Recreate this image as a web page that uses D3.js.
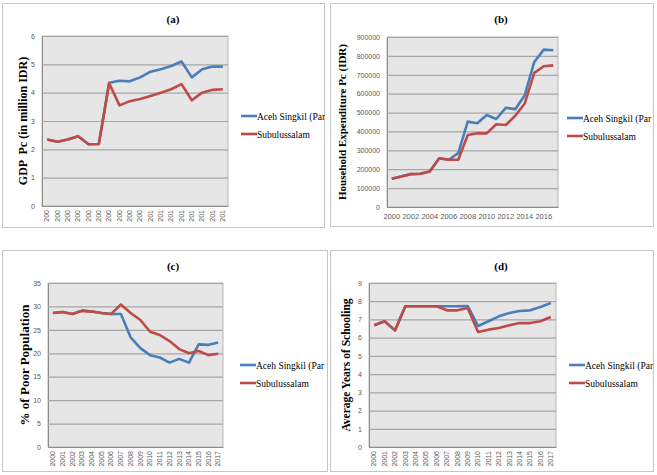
<html>
<head>
<meta charset="utf-8">
<style>
  body { margin: 0; background: #fff; }
  svg { display: block; }
  .tick text { font-family: 'Liberation Sans', Arial, sans-serif; font-size: 7px; fill: #595959; }
  .panel-title { font-family: 'Liberation Serif', 'Times New Roman', serif; font-weight: bold; font-size: 11px; fill: #000; }
  .y-title { font-family: 'Liberation Serif', 'Times New Roman', serif; font-weight: bold; font-size: 12px; fill: #000; white-space: pre; }
  .legend text { font-family: 'Liberation Serif', 'Times New Roman', serif; font-size: 9.5px; fill: #000; }
</style>
</head>
<body>
<svg width="657" height="475"></svg>
<script src="https://d3js.org/d3.v7.min.js"></script>
<script>
  // categories
  let years = ["2000","2001","2002","2003","2004","2005","2006","2007","2008",
               "2009","2010","2011","2012","2013","2014","2015","2016","2017"]

  // (a) GDP per capita, million IDR
  let gdpAceh  = [2.35,2.27,2.35,2.46,2.18,2.19,4.35,4.42,4.4,4.54,4.74,4.83,4.94,5.1,4.54,4.83,4.92,4.92]
  let gdpSubul = [2.35,2.27,2.35,2.46,2.18,2.19,4.33,3.55,3.7,3.78,3.88,4.0,4.12,4.3,3.73,4.0,4.1,4.12]

  // (b) household expenditure per capita, IDR
  let expAceh  = [149000,162000,174000,176000,188000,258000,250000,285000,452000,443000,487000,466000,525000,518000,592000,768000,833000,830000]
  let expSubul = [149000,162000,174000,176000,188000,258000,250000,250000,381000,390000,390000,438000,434000,483000,548000,710000,745000,750000]

  // (c) % of poor population
  let poorAceh  = [28.6,28.8,28.4,29.1,28.9,28.6,28.4,28.4,23.4,21.1,19.6,19.1,18.0,18.8,18.0,21.9,21.8,22.3]
  let poorSubul = [28.6,28.8,28.4,29.1,28.9,28.6,28.4,30.4,28.6,27.1,24.6,23.9,22.6,20.9,20.0,20.5,19.6,19.9]

  // (d) average years of schooling
  let schAceh  = [6.68,6.9,6.4,7.72,7.72,7.72,7.72,7.72,7.72,7.74,6.64,6.9,7.17,7.35,7.46,7.5,7.68,7.9]
  let schSubul = [6.68,6.9,6.4,7.72,7.72,7.72,7.72,7.5,7.5,7.63,6.31,6.44,6.53,6.68,6.8,6.8,6.9,7.13]

  let seriesNames = ["Aceh Singkil (Par", "Subulussalam"]
  let seriesColors = ["#4a7ebb", "#be4b48"]

  let svg = d3.select("svg")

  let panels = [
    {id: "a", title: "(a)", titleX: 173, yTitle: "GDP  Pc (in million IDR)", yTitleX: 23, box: [2, 3, 325, 228],
     plot: {left: 42, right: 228, top: 36, bottom: 206}, yMax: 6, yStep: 1,
     data: [gdpAceh, gdpSubul], xMode: "short", legendX: 241, legendY: 116},
    {id: "b", title: "(b)", titleX: 501, yTitle: "Household Expenditure Pc (IDR)", yTitleX: 342, box: [330, 3, 654, 227],
     plot: {left: 387, right: 558, top: 37, bottom: 207}, yMax: 900000, yStep: 100000,
     data: [expAceh, expSubul], xMode: "flat", legendX: 567, legendY: 118, yTitleSize: 11},
    {id: "c", title: "(c)", titleX: 173, yTitle: "% of Poor Population", yTitleX: 24, box: [2, 250, 328, 472],
     plot: {left: 48, right: 223, top: 283, bottom: 447}, yMax: 35, yStep: 5,
     data: [poorAceh, poorSubul], xMode: "full", legendX: 240, legendY: 365, yTitleSize: 13},
    {id: "d", title: "(d)", titleX: 501, yTitle: "Average Years of Schooling", yTitleX: 346, box: [330, 250, 654, 472],
     plot: {left: 369, right: 556, top: 283, bottom: 447}, yMax: 9, yStep: 1,
     data: [schAceh, schSubul], xMode: "full", legendX: 569, legendY: 365, yTitleSize: 11.5}
  ]

  panels.forEach(p => {
    let [bx0, by0, bx1, by1] = p.box
    let pl = p.plot

    svg.append("clipPath").attr("id", "clip-" + p.id)
      .append("rect").attr("x", bx0).attr("y", by0).attr("width", bx1 - bx0).attr("height", by1 - by0)

    let g = svg.append("g").attr("clip-path", `url(#clip-${p.id})`)

    // panel frame
    g.append("rect")
      .attr("x", bx0 + 0.5).attr("y", by0 + 0.5)
      .attr("width", bx1 - bx0 - 1).attr("height", by1 - by0 - 1)
      .attr("fill", "#fff").attr("stroke", "#c6c6c6")

    let x = d3.scaleBand().domain(years).range([pl.left, pl.right])
    let y = d3.scaleLinear().domain([0, p.yMax]).range([pl.bottom, pl.top])

    // plot background
    g.append("rect")
      .attr("x", pl.left).attr("y", pl.top)
      .attr("width", pl.right - pl.left).attr("height", pl.bottom - pl.top)
      .attr("fill", "#e6e6e6").attr("stroke", "#a8a8a8").attr("stroke-width", 0.8)

    let yTicks = d3.range(0, p.yMax + p.yStep / 2, p.yStep)
    g.append("g")
      .attr("transform", `translate(${pl.left},0)`)
      .call(d3.axisLeft(y).tickValues(yTicks).tickSize(-(pl.right - pl.left)).tickPadding(7)
        .tickFormat(d3.format("d")))
      .call(a => a.select(".domain").attr("stroke", "#8c8c8c"))
      .call(a => a.selectAll(".tick line").attr("stroke", "#a6a6a6").attr("stroke-width", 1.2))

    // x axis
    let xa = g.append("g").attr("transform", `translate(0,${pl.bottom})`)
    if (p.xMode === "flat") {
      xa.call(d3.axisBottom(x).tickSize(0).tickPadding(7)
        .tickValues(years.filter((d, i) => i % 2 === 0)))
      xa.selectAll(".tick text").style("font-size", "7.5px")
    } else {
      xa.call(d3.axisBottom(x).tickSize(0)
        .tickFormat(d => p.xMode === "short" ? d.slice(0, 3) : d))
      xa.selectAll(".tick text")
        .attr("transform", "rotate(-90)")
        .attr("text-anchor", "end")
        .attr("x", -4).attr("y", 0).attr("dy", "0.32em")
    }
    xa.select(".domain").attr("stroke", "#8c8c8c")

    // lines
    let line = d3.line()
      .x((d, i) => x(years[i]) + x.bandwidth() / 2)
      .y(d => y(d))

    p.data.forEach((vals, k) => {
      g.append("path")
        .datum(vals)
        .attr("fill", "none")
        .attr("stroke", seriesColors[k])
        .attr("stroke-width", 2.6)
        .attr("stroke-linejoin", "round")
        .attr("d", line)
    })

    // titles
    g.append("text").attr("class", "panel-title")
      .attr("x", p.titleX).attr("y", by0 + 20)
      .attr("text-anchor", "middle").text(p.title)

    g.append("text").attr("class", "y-title")
      .attr("transform", `translate(${p.yTitleX},${(pl.top + pl.bottom) / 2}) rotate(-90)`)
      .attr("text-anchor", "middle")
      .attr("dy", "0.35em")
      .style("font-size", (p.yTitleSize || 12) + "px")
      .text(p.yTitle)

    // legend
    let lg = g.append("g").attr("class", "legend")
      .attr("transform", `translate(${p.legendX},${p.legendY})`)
    seriesNames.forEach((name, k) => {
      lg.append("line")
        .attr("x1", 0).attr("x2", 16).attr("y1", k * 18).attr("y2", k * 18)
        .attr("stroke", seriesColors[k]).attr("stroke-width", 2.6)
      lg.append("text").attr("x", 16).attr("y", k * 18 + 3.5).text(name)
    })
  })
</script>
</body>
</html>
